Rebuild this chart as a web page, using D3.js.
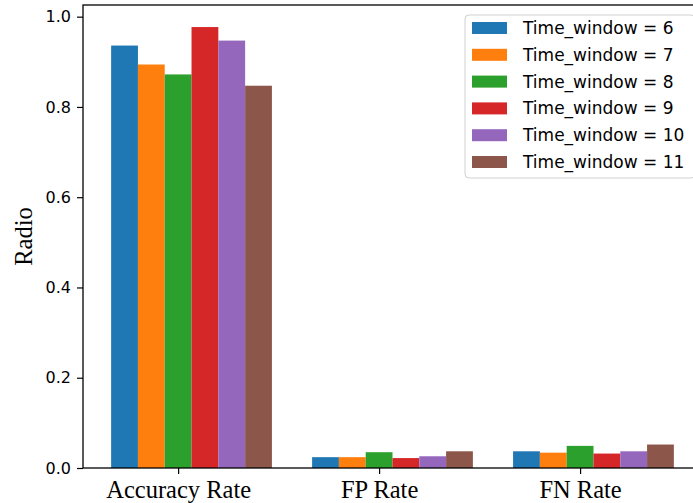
<!DOCTYPE html>
<html>
<head>
<meta charset="utf-8">
<script src="https://cdn.jsdelivr.net/npm/d3@7"></script>
<style>
  html, body { margin: 0; padding: 0; background: #fff; }
  svg { display: block; }
</style>
</head>
<body>
<svg id="chart" width="693" height="503"></svg>
<script>
// Metric groups on the x axis
const categories = ["Accuracy Rate", "FP Rate", "FN Rate"];
// One series per time window size
const seriesNames = ["Time_window = 6", "Time_window = 7", "Time_window = 8",
                     "Time_window = 9", "Time_window = 10", "Time_window = 11"];
const tw6  = [0.936, 0.024, 0.037];
const tw7  = [0.894, 0.024, 0.034];
const tw8  = [0.872, 0.035, 0.049];
const tw9  = [0.977, 0.022, 0.032];
const tw10 = [0.947, 0.026, 0.037];
const tw11 = [0.847, 0.037, 0.052];
const series = [tw6, tw7, tw8, tw9, tw10, tw11];
const colors = ["#1f77b4", "#ff7f0e", "#2ca02c", "#d62728", "#9467bd", "#8c564b"];
const yTicks = [0, 0.2, 0.4, 0.6, 0.8, 1.0];

const svg = d3.select("#chart");
const plot = { left: 83, right: 702, top: 5, bottom: 468 };

const barW = 0.8 / series.length;
// bars sit at i + (j-2)*barW, so each tick lands on the third bar
const xMin = -2.5 * barW, xMax = categories.length - 1 + 3.5 * barW;
const pad = 0.05 * (xMax - xMin);
const x = d3.scaleLinear().domain([xMin - pad, xMax + pad]).range([plot.left, plot.right]);

const yMaxData = d3.max(series.flat());
const y = d3.scaleLinear().domain([0, yMaxData * 1.05]).range([plot.bottom, plot.top]);

// Bars
series.forEach((vals, j) => {
  svg.append("g").selectAll("rect")
    .data(vals)
    .join("rect")
    .attr("x", (d, i) => x(i + (j - 2) * barW - barW / 2))
    .attr("width", (d, i) => x(i + (j - 2) * barW + barW / 2) - x(i + (j - 2) * barW - barW / 2))
    .attr("y", d => y(d))
    .attr("height", d => y(0) - y(d))
    .attr("fill", colors[j]);
});

// Y axis
const yAxis = svg.append("g")
  .attr("transform", `translate(${plot.left},0)`)
  .call(d3.axisLeft(y).tickValues(yTicks).tickFormat(d3.format(".1f")).tickSize(6).tickSizeOuter(0).tickPadding(6));
yAxis.selectAll("text")
  .attr("font-family", "DejaVu Sans")
  .attr("font-size", 16)
  .attr("fill", "#000");

// X axis
const xAxis = svg.append("g")
  .attr("transform", `translate(0,${plot.bottom})`)
  .call(d3.axisBottom(x).tickValues(categories.map((c, i) => i))
    .tickFormat(i => categories[i]).tickSize(6).tickSizeOuter(0).tickPadding(7));
xAxis.selectAll("text")
  .attr("font-family", "Liberation Serif")
  .attr("font-size", 24.5)
  .attr("fill", "#000");

[yAxis, xAxis].forEach(a => {
  a.select(".domain").remove();
  a.selectAll("line").attr("stroke", "#000").attr("stroke-width", 1.2);
});

// Frame
svg.append("rect")
  .attr("x", plot.left).attr("y", plot.top)
  .attr("width", plot.right - plot.left).attr("height", plot.bottom - plot.top)
  .attr("fill", "none").attr("stroke", "#000").attr("stroke-width", 1.3);

// Y label
svg.append("text")
  .attr("transform", `translate(32,${(plot.top + plot.bottom) / 2}) rotate(-90)`)
  .attr("text-anchor", "middle")
  .attr("font-family", "Liberation Serif")
  .attr("font-size", 24.5)
  .attr("fill", "#000")
  .text("Radio");

// Legend
const legend = svg.append("g");
legend.append("rect")
  .attr("x", 465).attr("y", 15).attr("width", 230).attr("height", 163)
  .attr("rx", 4).attr("ry", 4)
  .attr("fill", "#fff").attr("fill-opacity", 0.8)
  .attr("stroke", "#d0d0d0").attr("stroke-width", 1);
const rows = legend.selectAll("g.row")
  .data(seriesNames)
  .join("g")
  .attr("class", "row")
  .attr("transform", (d, i) => `translate(0,${28 + i * 26.8})`);
rows.append("rect")
  .attr("x", 472).attr("y", -6).attr("width", 35).attr("height", 12)
  .attr("fill", (d, i) => colors[i]);
rows.append("text")
  .attr("x", 523).attr("y", 0).attr("dy", "0.35em")
  .attr("font-family", "DejaVu Sans")
  .attr("font-size", 17)
  .attr("fill", "#000")
  .text(d => d);
</script>
</body>
</html>
